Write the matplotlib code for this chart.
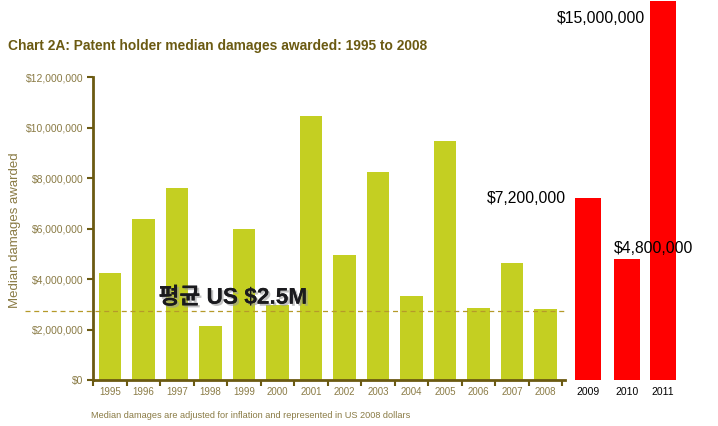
import matplotlib
matplotlib.use("Agg")
import matplotlib.pyplot as plt
import matplotlib.patheffects as pe
import numpy as np

years = ["1995", "1996", "1997", "1998", "1999", "2000", "2001",
         "2002", "2003", "2004", "2005", "2006", "2007", "2008"]
damages = [4.24e6, 6.38e6, 7.6e6, 2.14e6, 6.0e6, 2.97e6, 10.45e6,
           4.95e6, 8.24e6, 3.33e6, 9.47e6, 2.85e6, 4.63e6, 2.81e6]
new_years = ["2009", "2010", "2011"]
new_damages = [7.2e6, 4.8e6, 15.0e6]
new_labels = ["$7,200,000", "$4,800,000", "$15,000,000"]
average = 2.73e6
average_label = "평균 US $2.5M"
yticks = [0, 2e6, 4e6, 6e6, 8e6, 10e6, 12e6]
ytick_labels = ["$0", "$2,000,000", "$4,000,000", "$6,000,000",
                "$8,000,000", "$10,000,000", "$12,000,000"]

plt.rcParams['font.family'] = ['Liberation Sans', 'DejaVu Sans']

olive = "#6b5a12"
tickc = "#8a7b45"
green = "#c4cf22"
red = "#ff0000"

fig = plt.figure(figsize=(7.18, 4.26), dpi=100)
ax = fig.add_axes([93/718, 46/426, 1 - 93/718, 380/426])

x = np.arange(len(years))
ax.bar(x, damages, width=0.66, color=green, zorder=2)

xr = np.array([14.27, 15.43, 16.5])
ax.bar(xr, new_damages, width=0.78, color=red, zorder=2, clip_on=False)

ax.set_xlim((93 - 110) / 33.5, (718 - 110) / 33.5)
ax.set_ylim(0, 15.05e6)

for s in ["top", "right"]:
    ax.spines[s].set_visible(False)
for s in ["left", "bottom"]:
    ax.spines[s].set_color(olive)
    ax.spines[s].set_linewidth(2)
ax.spines["left"].set_bounds(0, 12e6)
ax.spines["bottom"].set_bounds((93 - 110) / 33.5, (565 - 110) / 33.5)

ax.set_yticks(yticks)
ax.set_yticklabels(ytick_labels)
ax.tick_params(axis="y", length=4, width=1.5, color=olive, labelcolor=tickc,
               labelsize=7.5, pad=3)

allx = list(x) + list(xr)
ax.set_xticks(allx)
ax.set_xticklabels(years + new_years)
ax.tick_params(axis="x", which="major", length=0, labelsize=7, pad=5, labelcolor=tickc)
for lbl in ax.get_xticklabels()[len(years):]:
    lbl.set_color("black")
    lbl.set_fontsize(7.5)
ax.set_xticks(np.arange(-0.5, 13.6, 1.0), minor=True)
ax.tick_params(axis="x", which="minor", length=4, width=1.5, color=olive)

# average line
ax.plot([(25 - 110) / 33.5, (565 - 110) / 33.5], [average, average],
        ls=(0, (4, 3)), color="#b59a2a", lw=0.9, clip_on=False, zorder=3)
ax.text(1.45, average + 0.55e6, average_label, fontsize=16.3, fontweight="bold",
        color="#1a1a1e", family=["Liberation Sans", "Noto Sans CJK KR"], va="center",
        zorder=4,
        path_effects=[pe.withSimplePatchShadow(offset=(1.5, -1.5), shadow_rgbFace="#999999", alpha=0.6),
                      pe.Normal()])

# new value labels
ax.annotate(new_labels[0], (xr[0] - 0.39, new_damages[0]), xytext=(-9, 0),
            textcoords="offset pixels", ha="right", va="center", fontsize=11.3)
ax.annotate(new_labels[1], (xr[1] - 0.39, new_damages[1]), xytext=(0, 10),
            textcoords="offset pixels", ha="left", va="center", fontsize=11.3)
ax.annotate(new_labels[2], (xr[2] - 0.39, new_damages[2]), xytext=(-5, -17),
            textcoords="offset pixels", ha="right", va="center", fontsize=11.3,
            annotation_clip=False)

ax.set_ylabel("Median damages awarded", color=tickc, fontsize=9.5)
ax.yaxis.set_label_coords(-(93 - 21) / 625, (380 - 230) / 380)

fig.text(8 / 718, 1 - 46 / 426, "Chart 2A: Patent holder median damages awarded: 1995 to 2008",
         fontsize=9.9, fontweight="bold", color=olive, va="center")
fig.text(91 / 718, 1 - 416 / 426,
         "Median damages are adjusted for inflation and represented in US 2008 dollars",
         fontsize=6.6, color=tickc, va="center")

fig.savefig("out.png", dpi=100)
